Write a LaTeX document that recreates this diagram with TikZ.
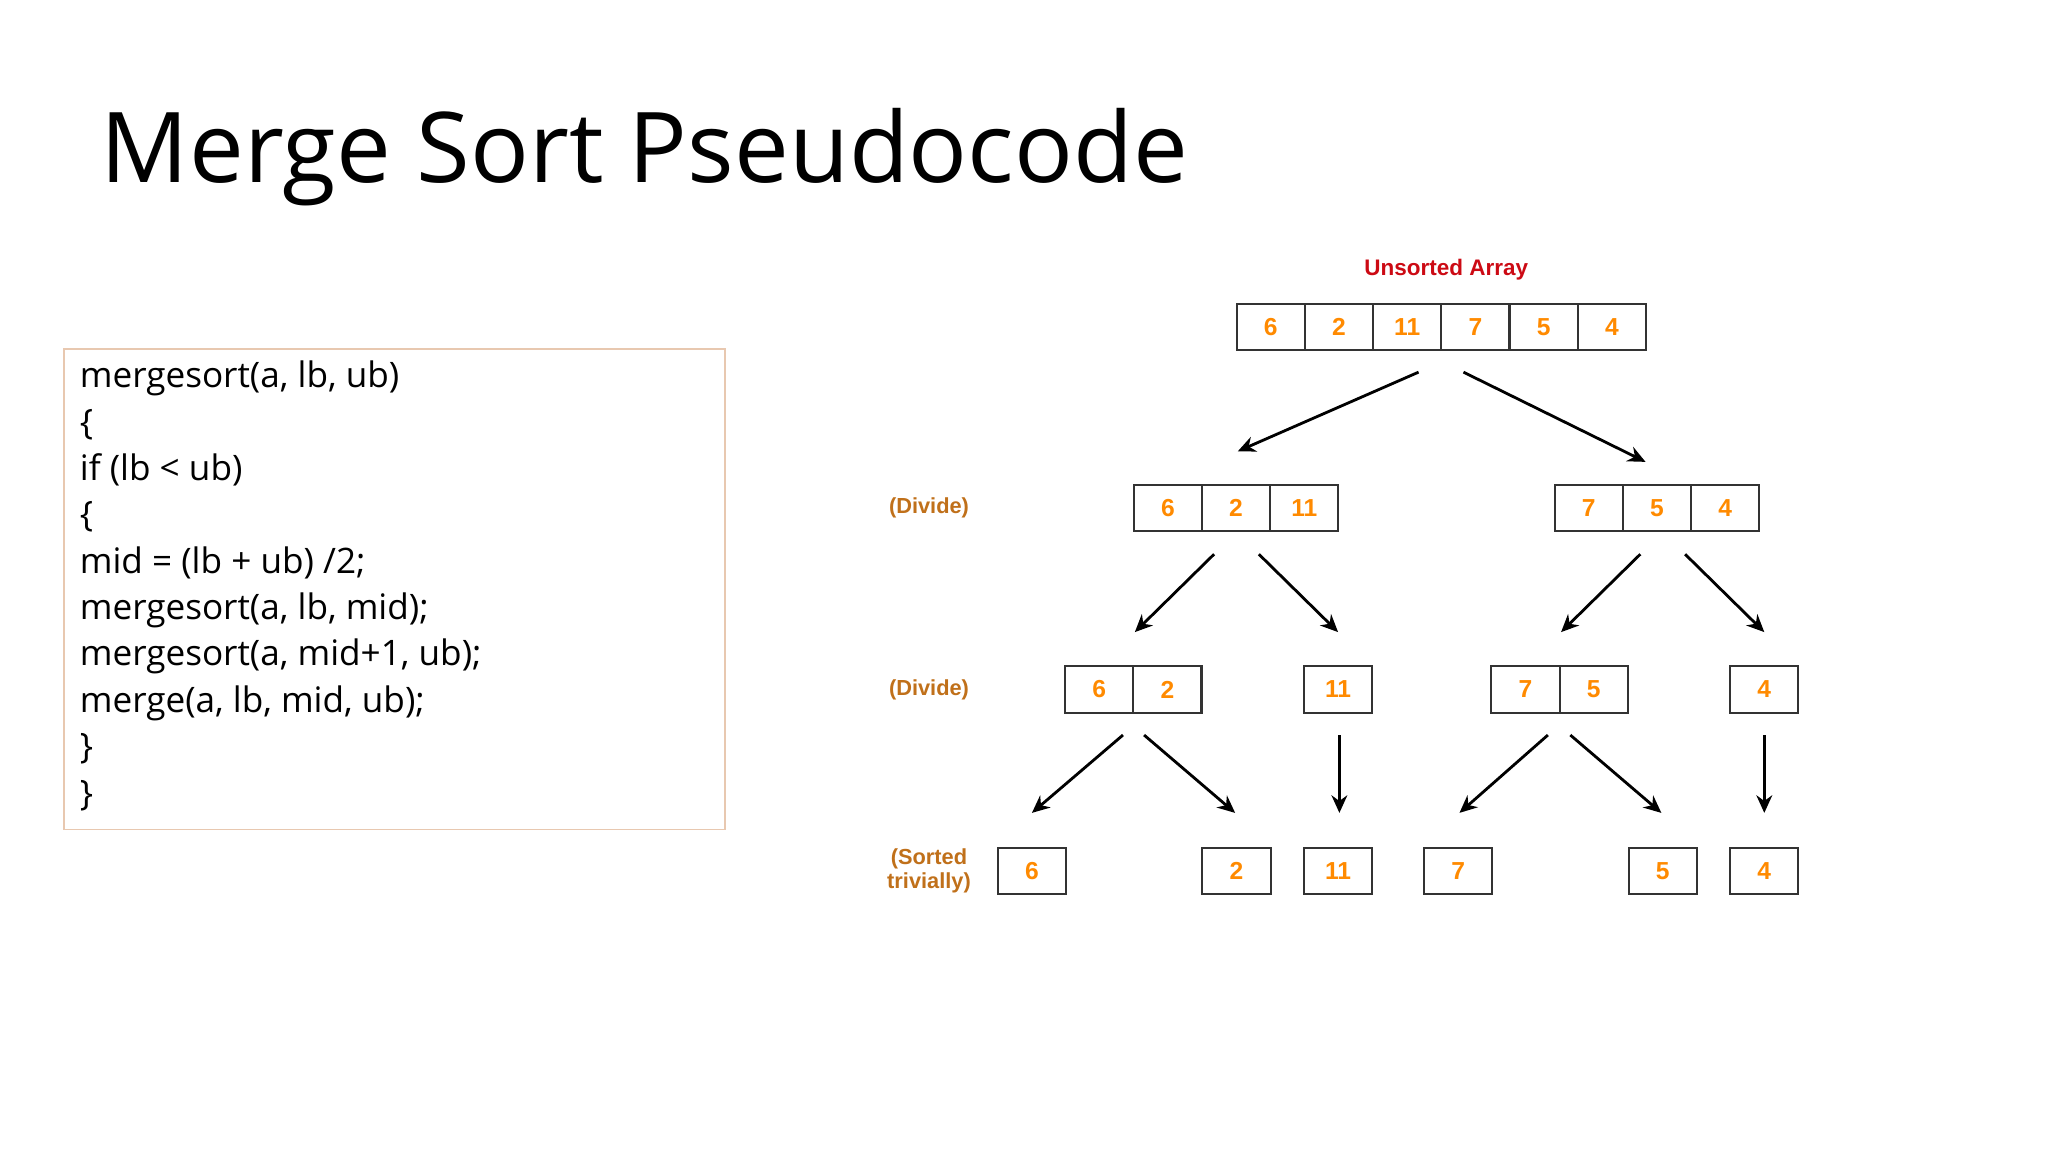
\documentclass[tikz,border=0pt]{standalone}
\usepackage{fontspec}
\setmainfont{Open Sans}
\newfontfamily\diagfont{Liberation Sans}
\usetikzlibrary{arrows.meta}
\definecolor{numor}{HTML}{FF8A00}
\definecolor{labbr}{HTML}{C0701A}
\definecolor{unred}{HTML}{CC0A14}
\definecolor{boxbd}{HTML}{E8C8B0}
\tikzset{
  cell/.style={draw=black!80,line width=0.6pt,minimum width=0.682cm,minimum height=0.462cm,inner sep=0pt,outer sep=0pt,font=\diagfont\bfseries\fontsize{7}{8}\selectfont,text=numor},
  lab/.style={font=\diagfont\bfseries\fontsize{6.2}{7}\selectfont,text=labbr,align=center},
  arr/.style={-{Stealth[length=5pt,width=4.5pt]},line width=0.8pt,black}
}
\begin{document}
\begin{tikzpicture}[x=0.013196cm,y=-0.013196cm]
\useasboundingbox (0,0) rectangle (1552,873);
\node[anchor=base west,inner sep=0pt,font=\fontsize{27.8}{32}\selectfont] (title) at (76,138) {Merge Sort Pseudocode};
\node[draw=boxbd,line width=0.5pt,minimum width=6.611cm,minimum height=4.803cm,anchor=north west,inner sep=0pt] (codebox) at (48,264) {};
\node[anchor=north west,inner sep=0pt,align=left,font=\fontsize{10}{13.2}\selectfont] (code) at (60,273) {mergesort(a, lb, ub)\\\{\\if (lb < ub)\\\{\\mid = (lb + ub) /2;\\mergesort(a, lb, mid);\\mergesort(a, mid+1, ub);\\merge(a, lb, mid, ub);\\\}\\\}};
\node[font=\diagfont\bfseries\fontsize{6.4}{7}\selectfont,text=unred] (ua) at (1096,204) {Unsorted Array};
% level 1
\node[cell] (a1) at (963,248) {6};
\node[cell] (a2) at (1014.7,248) {2};
\node[cell] (a3) at (1066.4,248) {11};
\node[cell] (a4) at (1118.1,248) {7};
\node[cell] (a5) at (1169.8,248) {5};
\node[cell] (a6) at (1221.5,248) {4};
% level 2
\node[lab] (d1) at (704,385) {(Divide)};
\node[cell] (b1) at (885,385) {6};
\node[cell] (b2) at (936.7,385) {2};
\node[cell] (b3) at (988.4,385) {11};
\node[cell] (c1) at (1204,385) {7};
\node[cell] (c2) at (1255.7,385) {5};
\node[cell] (c3) at (1307.4,385) {4};
% level 3
\node[lab] (d2) at (704,522.5) {(Divide)};
\node[cell] (e1) at (833,522.5) {6};
\node[cell] (e2) at (884.7,522.5) {2};
\node[cell] (e3) at (1014,522.5) {11};
\node[cell] (f1) at (1156,522.5) {7};
\node[cell] (f2) at (1207.7,522.5) {5};
\node[cell] (f3) at (1337,522.5) {4};
% level 4
\node[lab] (d3) at (704,660) {(Sorted\\trivially)};
\node[cell] (g1) at (782,660) {6};
\node[cell] (g2) at (937,660) {2};
\node[cell] (g3) at (1014,660) {11};
\node[cell] (g4) at (1105,660) {7};
\node[cell] (g5) at (1260,660) {5};
\node[cell] (g6) at (1337,660) {4};
% arrow endpoints
\coordinate (p1) at (1075,282); \coordinate (q1) at (938,342);
\coordinate (p2) at (1109,282); \coordinate (q2) at (1247,350);
\coordinate (p3) at (920,420); \coordinate (q3) at (860,479);
\coordinate (p4) at (954,420); \coordinate (q4) at (1014,479);
\coordinate (p5) at (1243,420); \coordinate (q5) at (1183,479);
\coordinate (p6) at (1277,420); \coordinate (q6) at (1337,479);
\coordinate (p7) at (851,557); \coordinate (q7) at (782,616);
\coordinate (p8) at (867,557); \coordinate (q8) at (936,616);
\coordinate (p9) at (1015,557); \coordinate (q9) at (1015,616);
\coordinate (p10) at (1173,557); \coordinate (q10) at (1106,616);
\coordinate (p11) at (1190,557); \coordinate (q11) at (1259,616);
\coordinate (p12) at (1337,557); \coordinate (q12) at (1337,616);
\foreach \i in {1,...,12} {\draw[arr] (p\i) -- (q\i);}
\end{tikzpicture}
\end{document}
